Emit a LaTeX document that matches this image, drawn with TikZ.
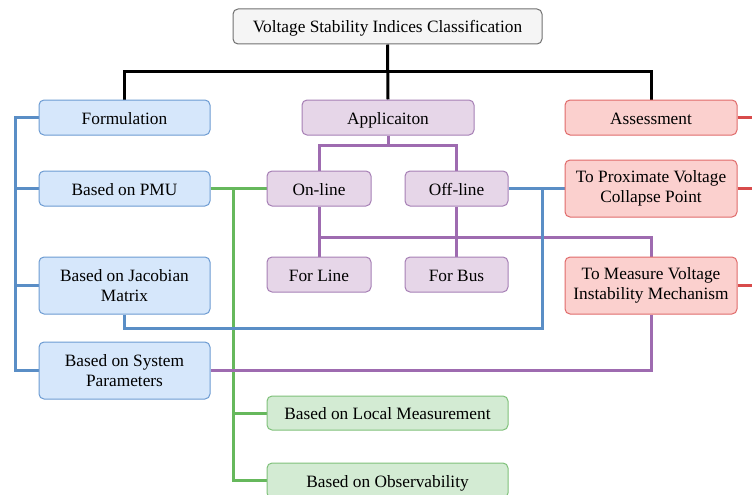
\documentclass[tikz,border=0pt]{standalone}
\usepackage{fontspec}
\setmainfont{Liberation Serif}
\usetikzlibrary{backgrounds}
\definecolor{bfill}{HTML}{D6E7FB}
\definecolor{bdraw}{HTML}{6C9BD2}
\definecolor{bline}{HTML}{5A8EC6}
\definecolor{pfill}{HTML}{E6D6E8}
\definecolor{pdraw}{HTML}{A67FB5}
\definecolor{pline}{HTML}{9E6BB0}
\definecolor{gfill}{HTML}{D3EBD3}
\definecolor{gdraw}{HTML}{7FC17A}
\definecolor{gline}{HTML}{66B85C}
\definecolor{rfill}{HTML}{FBD0CE}
\definecolor{rdraw}{HTML}{E06A6A}
\definecolor{rline}{HTML}{D84B4B}
\definecolor{tfill}{HTML}{F5F5F5}
\definecolor{tdraw}{HTML}{707070}
\tikzset{
  box/.style={rounded corners=5pt, line width=1pt, align=center, inner sep=0pt,
    font=\fontsize{17.3}{19.5}\selectfont, text=black},
  one/.style={text height=13pt, text depth=0pt},
  bbox/.style={box, fill=bfill, draw=bdraw},
  pbox/.style={box, fill=pfill, draw=pdraw},
  gbox/.style={box, fill=gfill, draw=gdraw},
  rbox/.style={box, fill=rfill, draw=rdraw},
  tbox/.style={box, fill=tfill, draw=tdraw},
  conn/.style={line width=3pt},
}
\begin{document}
\begin{tikzpicture}[x=1pt,y=-1pt]
\useasboundingbox (0,0) rectangle (752,495);
% nodes
\node[tbox, one, minimum width=309pt, minimum height=35pt] (title) at (387.5,26.5) {Voltage Stability Indices Classification};
\node[bbox, one, minimum width=171pt, minimum height=35pt] (form) at (124.5,117.5) {Formulation};
\node[bbox, one, minimum width=171pt, minimum height=35pt] (pmu) at (124.5,188.5) {Based on PMU};
\node[bbox, minimum width=171pt, minimum height=57pt] (jac) at (124.5,285.5) {Based on Jacobian\\Matrix};
\node[bbox, minimum width=171pt, minimum height=57pt] (sys) at (124.5,370.5) {Based on System\\Parameters};
\node[pbox, one, minimum width=172pt, minimum height=35pt] (app) at (388,117.5) {Applicaiton};
\node[pbox, one, minimum width=104pt, minimum height=35pt] (online) at (319,188.5) {On-line};
\node[pbox, one, minimum width=103pt, minimum height=35pt] (offline) at (456.5,188.5) {Off-line};
\node[pbox, one, minimum width=104pt, minimum height=35pt] (fline) at (319,274.5) {For Line};
\node[pbox, one, minimum width=103pt, minimum height=35pt] (fbus) at (456.5,274.5) {For Bus};
\node[rbox, one, minimum width=172pt, minimum height=35pt] (assess) at (651,117.5) {Assessment};
\node[rbox, minimum width=172pt, minimum height=57pt] (prox) at (651,188.5) {To Proximate Voltage\\Collapse Point};
\node[rbox, minimum width=172pt, minimum height=57pt] (meas) at (651,285.5) {To Measure Voltage\\Instability Mechanism};
\node[gbox, one, minimum width=241pt, minimum height=34pt] (local) at (387.5,413) {Based on Local Measurement};
\node[gbox, one, minimum width=241pt, minimum height=35pt] (obs) at (387.5,480.5) {Based on Observability};
% coordinates
\coordinate (bL) at (124.5,72);
\coordinate (bR) at (651,72);
\coordinate (lA) at (15,117.5);
\coordinate (lB) at (15,188.5);
\coordinate (lC) at (15,285.5);
\coordinate (gA) at (233,188.5);
\coordinate (gB) at (233,413);
\coordinate (pj) at (388,145);
\coordinate (pk) at (319,237);
\coordinate (qA) at (542,188.5);
\coordinate (qB) at (542,328);
\coordinate (rA) at (752,117.5);
\coordinate (rB) at (752,188.5);
\coordinate (rC) at (752,285.5);
\begin{scope}[on background layer]
% black
\draw[conn, black] (title.south) -- (app.north);
\draw[conn, black] (form.north) -- (bL) -- (bR) -- (assess.north);
% blue left
\draw[conn, bline] (form.west) -- (lA) |- (sys.west);
\draw[conn, bline] (pmu.west) -- (lB);
\draw[conn, bline] (jac.west) -- (lC);
% green
\draw[conn, gline] (pmu.east) -- (online.west);
\draw[conn, gline] (gA) |- (obs.west);
\draw[conn, gline] (gB) -- (local.west);
% purple
\draw[conn, pline] (app.south) -- (pj);
\draw[conn, pline] (online.north) |- (pj) -| (offline.north);
\draw[conn, pline] (online.south) -- (fline.north);
\draw[conn, pline] (offline.south) -- (fbus.north);
\draw[conn, pline] (pk) -| (meas.north);
\draw[conn, pline] (meas.south) |- (sys.east);
% blue right
\draw[conn, bline] (offline.east) -- (prox.west);
\draw[conn, bline] (jac.south) |- (qB) -- (qA);
% red
\draw[conn, rline] (assess.east) -- (rA);
\draw[conn, rline] (prox.east) -- (rB);
\draw[conn, rline] (meas.east) -- (rC);
\end{scope}
\end{tikzpicture}
\end{document}
